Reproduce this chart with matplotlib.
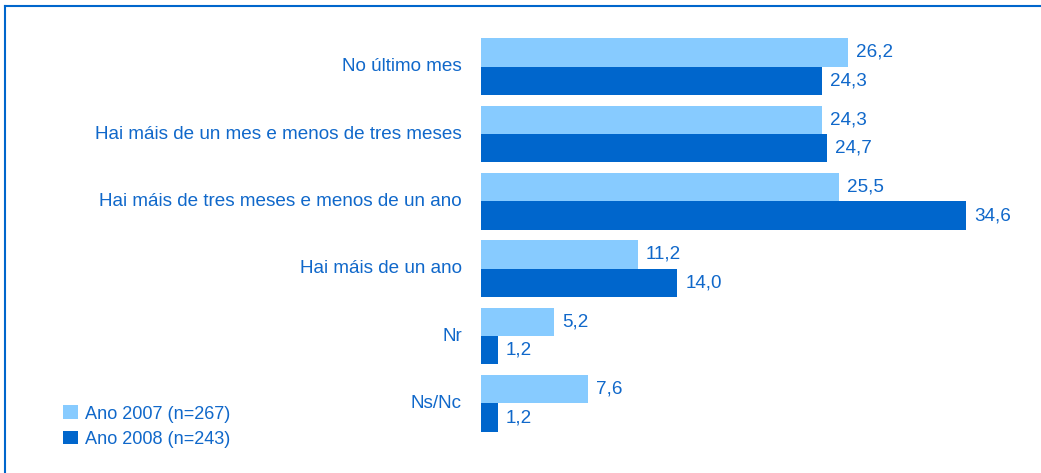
import matplotlib
matplotlib.use("Agg")
from matplotlib import pyplot as plt
from matplotlib.lines import Line2D
import numpy as np

categories = ["No último mes",
              "Hai máis de un mes e menos de tres meses",
              "Hai máis de tres meses e menos de un ano",
              "Hai máis de un ano",
              "Nr",
              "Ns/Nc"]
values_2007 = [26.2, 24.3, 25.5, 11.2, 5.2, 7.6]
values_2008 = [24.3, 24.7, 34.6, 14.0, 1.2, 1.2]
series_labels = ["Ano 2007 (n=267)", "Ano 2008 (n=243)"]

light = "#87CBFF"
dark = "#0066CC"
text_col = "#1068CA"

plt.rcParams["font.family"] = ["Liberation Sans", "DejaVu Sans"]
W, H = 1041, 473
fig = plt.figure(figsize=(W / 100, H / 100), dpi=100)

# axes placed in pixel terms: x 481..1041, y 33..437
ax = fig.add_axes([481 / W, 1 - 437 / H, (W - 481) / W, 404 / H])
ax.set_xlim(0, (W - 481) / 14.02)
ax.set_ylim(len(categories) - 0.5, -0.5)
ax.axis("off")

y = np.arange(len(categories))
h = 0.423
b1 = ax.barh(y - h / 2, values_2007, height=h, color=light, label=series_labels[0])
b2 = ax.barh(y + h / 2, values_2008, height=h, color=dark, label=series_labels[1])

fs = 13.6
for yy, v in zip(y - h / 2, values_2007):
    ax.annotate(f"{v:.1f}".replace(".", ","), (v, yy), xytext=(8, 0), textcoords="offset pixels",
                va="center", ha="left", color=text_col, fontsize=fs)
for yy, v in zip(y + h / 2, values_2008):
    ax.annotate(f"{v:.1f}".replace(".", ","), (v, yy), xytext=(8, 0), textcoords="offset pixels",
                va="center", ha="left", color=text_col, fontsize=fs)

for yy, c in zip(y, categories):
    ax.annotate(c, (0, yy), xytext=(-19, 0), textcoords="offset pixels",
                va="center", ha="right", color=text_col, fontsize=fs)

leg = fig.legend(handles=[b1, b2], loc="upper left", bbox_to_anchor=(47 / W, 1 - 389 / H),
                 frameon=False, fontsize=13.1, handlelength=0.78, handleheight=0.78,
                 handletextpad=0.4, labelspacing=0.45)
for t in leg.get_texts():
    t.set_color(text_col)

# frame lines (top and left only visible)
fig.add_artist(Line2D([5 / W, 5 / W], [0, 1 - 6 / H], color=dark, lw=1.5, transform=fig.transFigure))
fig.add_artist(Line2D([5 / W, 1], [1 - 6 / H, 1 - 6 / H], color=dark, lw=1.5, transform=fig.transFigure))

fig.savefig("out.png", dpi=100)
